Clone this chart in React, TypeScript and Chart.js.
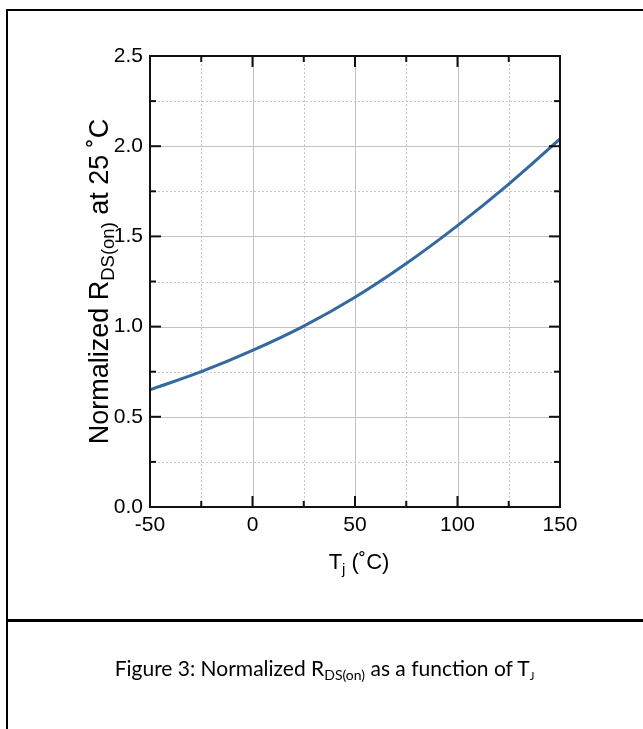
import React, { useEffect, useRef } from "react";
import { Chart, registerables } from "chart.js";

Chart.register(...registerables);

// ---- data ----
const temperatures = [-50, -25, 0, 25, 50, 75, 100, 125, 150];
const normalizedRdson = [0.65, 0.75, 0.868, 1.003, 1.163, 1.35, 1.56, 1.79, 2.04];
const xMajorTicks = [-50, 0, 50, 100, 150];
const xMinorTicks = [-25, 25, 75, 125];
const yMajorTicks = [0, 0.5, 1.0, 1.5, 2.0, 2.5];
const yMinorTicks = [0.25, 0.75, 1.25, 1.75, 2.25];

const FONT = '"Liberation Sans", Arial, sans-serif';

type Part = { t: string; sub?: boolean };
const xTitleParts: Part[] = [{ t: "T" }, { t: "j", sub: true }, { t: " (˚C)" }];
const yTitleParts: Part[] = [
  { t: "Normalized R" },
  { t: "DS(on)", sub: true },
  { t: " at 25 ˚C" },
];

function drawRich(ctx: CanvasRenderingContext2D, parts: Part[], size: number, subSize: number, subDrop: number) {
  let total = 0;
  for (const p of parts) {
    ctx.font = `${p.sub ? subSize : size}px ${FONT}`;
    total += ctx.measureText(p.t).width;
  }
  let x = -total / 2;
  ctx.textAlign = "left";
  ctx.textBaseline = "alphabetic";
  for (const p of parts) {
    ctx.font = `${p.sub ? subSize : size}px ${FONT}`;
    ctx.fillText(p.t, x, p.sub ? subDrop : 0);
    x += ctx.measureText(p.t).width;
  }
}

const frameGridPlugin = {
  id: "frameGrid",
  beforeDatasetsDraw(chart: any) {
    const { ctx, chartArea: a, scales } = chart;
    const xs = scales.x;
    const ys = scales.y;
    ctx.save();
    ctx.strokeStyle = "#c6c6c6";
    ctx.lineWidth = 1;
    ctx.setLineDash([2, 2]);
    for (const v of xMinorTicks) {
      const px = Math.round(xs.getPixelForValue(v)) + 0.5;
      ctx.beginPath();
      ctx.moveTo(px, a.top);
      ctx.lineTo(px, a.bottom);
      ctx.stroke();
    }
    for (const v of yMinorTicks) {
      const py = Math.round(ys.getPixelForValue(v)) + 0.5;
      ctx.beginPath();
      ctx.moveTo(a.left, py);
      ctx.lineTo(a.right, py);
      ctx.stroke();
    }
    ctx.setLineDash([]);
    ctx.strokeStyle = "#c2c2c2";
    for (const v of xMajorTicks) {
      const px = Math.round(xs.getPixelForValue(v)) + 0.5;
      ctx.beginPath();
      ctx.moveTo(px, a.top);
      ctx.lineTo(px, a.bottom);
      ctx.stroke();
    }
    for (const v of yMajorTicks) {
      const py = Math.round(ys.getPixelForValue(v)) + 0.5;
      ctx.beginPath();
      ctx.moveTo(a.left, py);
      ctx.lineTo(a.right, py);
      ctx.stroke();
    }
    ctx.restore();
  },
  afterDatasetsDraw(chart: any) {
    const { ctx, chartArea: a, scales } = chart;
    const xs = scales.x;
    const ys = scales.y;
    ctx.save();
    ctx.strokeStyle = "#111";
    ctx.lineWidth = 2;
    ctx.setLineDash([]);
    ctx.strokeRect(a.left, a.top, a.right - a.left, a.bottom - a.top);
    const tick = (x1: number, y1: number, x2: number, y2: number) => {
      ctx.beginPath();
      ctx.moveTo(x1, y1);
      ctx.lineTo(x2, y2);
      ctx.stroke();
    };
    const MAJ = 11;
    const MIN = 6;
    for (const [list, len] of [
      [xMajorTicks, MAJ],
      [xMinorTicks, MIN],
    ] as [number[], number][]) {
      for (const v of list) {
        const px = xs.getPixelForValue(v);
        tick(px, a.bottom, px, a.bottom - len);
        tick(px, a.top, px, a.top + len);
      }
    }
    for (const [list, len] of [
      [yMajorTicks, MAJ],
      [yMinorTicks, MIN],
    ] as [number[], number][]) {
      for (const v of list) {
        const py = ys.getPixelForValue(v);
        tick(a.left, py, a.left + len, py);
        tick(a.right, py, a.right - len, py);
      }
    }
    ctx.restore();
  },
  afterDraw(chart: any) {
    const { ctx, chartArea: a } = chart;
    ctx.save();
    ctx.fillStyle = "#000";
    ctx.translate(359, 569);
    drawRich(ctx, xTitleParts, 22, 15, 5);
    ctx.restore();
    ctx.save();
    ctx.fillStyle = "#000";
    ctx.translate(108, (a.top + a.bottom) / 2);
    ctx.rotate(-Math.PI / 2);
    drawRich(ctx, yTitleParts, 27, 18.5, 6);
    ctx.restore();
  },
};

function RdsChart() {
  const ref = useRef<HTMLCanvasElement | null>(null);
  useEffect(() => {
    if (!ref.current) return;
    const chart = new Chart(ref.current, {
      type: "line",
      data: {
        datasets: [
          {
            data: temperatures.map((t, i) => ({ x: t, y: normalizedRdson[i] })),
            borderColor: "#3468a0",
            borderWidth: 3,
            pointRadius: 0,
            tension: 0.4,
            fill: false,
          },
        ],
      },
      options: {
        animation: false,
        responsive: false,
        events: [],
        layout: { padding: { top: 56, right: 83, left: 0, bottom: 0 } },
        plugins: { legend: { display: false }, tooltip: { enabled: false }, title: { display: false } },
        scales: {
          x: {
            type: "linear",
            min: -50,
            max: 150,
            grid: { display: false, drawTicks: false },
            border: { display: false },
            afterFit: (s: any) => {
              s.height = 112;
            },
            afterBuildTicks: (s: any) => {
              s.ticks = xMajorTicks.map((v) => ({ value: v }));
            },
            ticks: {
              color: "#000",
              padding: 6,
              maxRotation: 0,
              font: { family: FONT, size: 21 },
              callback: (v: any) => String(v),
            },
          },
          y: {
            type: "linear",
            min: 0,
            max: 2.5,
            grid: { display: false, drawTicks: false },
            border: { display: false },
            afterFit: (s: any) => {
              s.width = 150;
            },
            afterBuildTicks: (s: any) => {
              s.ticks = yMajorTicks.map((v) => ({ value: v }));
            },
            ticks: {
              color: "#000",
              padding: 7,
              font: { family: FONT, size: 21 },
              callback: (v: any) => Number(v).toFixed(1),
            },
          },
        },
      },
      plugins: [frameGridPlugin],
    } as any);
    return () => chart.destroy();
  }, []);
  return (
    <canvas
      ref={ref}
      width={643}
      height={619}
      style={{ position: "absolute", left: 0, top: 0, width: 643, height: 619 }}
    />
  );
}

export default function App() {
  return (
    <div style={{ position: "absolute", left: 0, top: 0, width: 643, height: 729, background: "#fff", overflow: "hidden" }}>
      <RdsChart />
      <div
        style={{
          position: "absolute",
          left: 6,
          top: 9,
          width: 637,
          height: 720,
          borderTop: "2px solid #000",
          borderLeft: "2px solid #000",
          boxSizing: "border-box",
        }}
      />
      <div style={{ position: "absolute", left: 6, top: 619, width: 637, height: 3, background: "#000" }} />
      <div
        style={{
          position: "absolute",
          left: 6,
          width: 637,
          top: 654,
          textAlign: "center",
          fontFamily: "Lato, 'Open Sans', sans-serif",
          fontSize: 21,
          color: "#000",
          lineHeight: "28px",
          whiteSpace: "nowrap",
        }}
      >
        Figure 3: Normalized R
        <span style={{ fontSize: 14, verticalAlign: -4 }}>DS(on)</span> as a function of T
        <span style={{ fontSize: 11, verticalAlign: -4 }}>J</span>
      </div>
    </div>
  );
}
